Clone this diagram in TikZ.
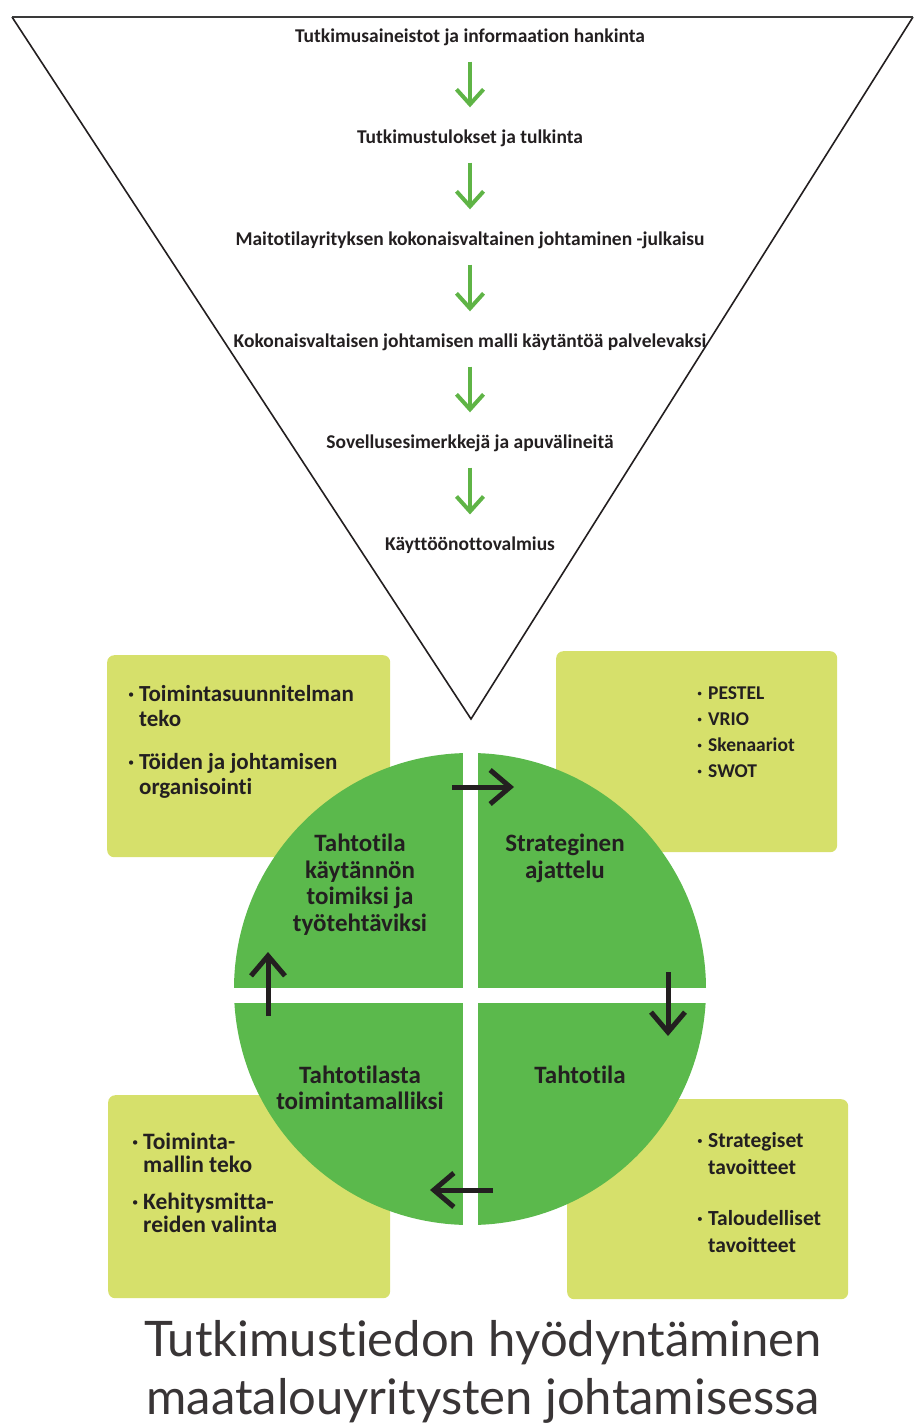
\documentclass[tikz,border=0pt]{standalone}
\usepackage{fontspec}
\usepackage{tikz}
\usetikzlibrary{arrows.meta, positioning, calc}
\setmainfont[Ligatures=NoCommon]{Carlito}
\newfontfamily\titlefont[Ligatures=NoCommon]{Lato}
\definecolor{ink-dark}{HTML}{231F20}
\definecolor{rim-grey}{HTML}{3A3A3A}
\definecolor{flow-green}{HTML}{5FB446}
\definecolor{wheel-green}{HTML}{5BB94C}
\definecolor{box-lime}{HTML}{D6E06B}
\tikzset{
  stage-text/.style={
    text=ink-dark, inner sep=0pt, font=\bfseries\fontsize{19.5}{22}\selectfont
  },
  flow-edge/.style={-{Straight Barb[length=15pt, width=27pt]}, line width=4pt, draw=flow-green,
    shorten <=16pt, shorten >=22pt},
  tool-box/.style={fill=box-lime, rounded corners=7pt, inner sep=0pt, anchor=north west},
  list-text/.style={
    text=ink-dark, inner sep=0pt, anchor=north west, align=left,
    font=\bfseries\fontsize{19}{25}\selectfont
  },
  quad-text/.style={
    text=ink-dark, inner sep=0pt, align=center,
    font=\bfseries\fontsize{25}{26.5}\selectfont
  },
  cycle-edge/.style={-{Straight Barb[length=20pt, width=34pt]}, line width=5pt, draw=ink-dark},
  title-text/.style={
    text=ink-dark!90, inner sep=0pt, align=center,
    font=\titlefont\fontsize{49}{58}\selectfont
  }
}
\newcommand{\dotmark}{\makebox[11pt][l]{·}}
\newcommand{\hang}{\hspace*{11pt}}

\begin{document}
\begin{tikzpicture}[x=1pt, y=-1pt]
  \useasboundingbox (0,0) rectangle (915,1425);

  % Suppilo
  \coordinate (rim-left) at (12,17);
  \coordinate (rim-right) at (913,17);
  \coordinate (apex) at (471,719);
  \draw[line width=1.6pt, draw=ink-dark] (rim-left) -- (apex) -- (rim-right);
  \draw[line width=2.6pt, draw=rim-grey] (rim-left) -- (rim-right);

  \node[stage-text] (stage1) at (470,37) {Tutkimusaineistot ja informaation hankinta};
  \node[stage-text] (stage2) at (470,138) {Tutkimustulokset ja tulkinta};
  \node[stage-text] (stage3) at (470,240) {Maitotilayrityksen kokonaisvaltainen johtaminen -julkaisu};
  \node[stage-text] (stage4) at (470,342) {Kokonaisvaltaisen johtamisen malli käytäntöä palvelevaksi};
  \node[stage-text] (stage5) at (470,443) {Sovellusesimerkkejä ja apuvälineitä};
  \node[stage-text] (stage6) at (470,545) {Käyttöönottovalmius};

  \draw[flow-edge] (stage1) -- (stage2);
  \draw[flow-edge] (stage2) -- (stage3);
  \draw[flow-edge] (stage3) -- (stage4);
  \draw[flow-edge] (stage4) -- (stage5);
  \draw[flow-edge] (stage5) -- (stage6);

  % Laatikot ympyrän takana
  \node[tool-box, minimum width=283pt, minimum height=202pt] (plan-box) at (107,655) {};
  \node[tool-box, minimum width=281pt, minimum height=201pt] (tools-box) at (556,651) {};
  \node[tool-box, minimum width=282pt, minimum height=203pt] (model-box) at (108,1095) {};
  \node[tool-box, minimum width=281pt, minimum height=200pt] (goal-box) at (567,1099) {};

  \node[list-text, font=\bfseries\fontsize{23}{25}\selectfont] (plan-list) at (128,685) {
    \dotmark Toimintasuunnitelman\\
    \hang teko\\[18pt]
    \dotmark Töiden ja johtamisen\\
    \hang organisointi
  };
  \node[list-text, font=\bfseries\fontsize{19.5}{26}\selectfont] (tools-list) at (697,687) {
    \dotmark PESTEL\\
    \dotmark VRIO\\
    \dotmark Skenaariot\\
    \dotmark SWOT
  };
  \node[list-text, font=\bfseries\fontsize{23.5}{23}\selectfont] (model-list) at (132,1133) {
    \dotmark Toiminta-\\
    \hang mallin teko\\[14pt]
    \dotmark Kehitysmitta-\\
    \hang reiden valinta
  };
  \node[list-text, font=\bfseries\fontsize{21.5}{27}\selectfont] (goal-list) at (697,1132) {
    \dotmark Strategiset\\
    \hang tavoitteet\\[24pt]
    \dotmark Taloudelliset\\
    \hang tavoitteet
  };

  % Ympyrä ja sen neljännekset
  \node[circle, fill=wheel-green, minimum size=472pt, inner sep=0pt] (wheel) at (470,989) {};
  \begin{scope}
    \clip (wheel.center) circle[radius=238pt];
    \fill[white] (462.5,740) rectangle (478,1240);
    \fill[white] (220,988) rectangle (720,1003);
  \end{scope}

  \node[quad-text] (q-practice) at (360,884.5) {Tahtotila\\käytännön\\toimiksi ja\\työtehtäviksi};
  \node[quad-text] (q-strategy) at (565,858.5) {Strateginen\\ajattelu};
  \node[quad-text] (q-vision) at (580,1075) {Tahtotila};
  \node[quad-text] (q-model) at (360,1088) {Tahtotilasta\\toimintamalliksi};

  % Kierron nuolet
  \coordinate (turn1-from) at (452,787);
  \coordinate (turn1-to) at (514,787);
  \coordinate (turn2-from) at (668,972);
  \coordinate (turn2-to) at (668,1036);
  \coordinate (turn3-from) at (493,1190);
  \coordinate (turn3-to) at (430,1190);
  \coordinate (turn4-from) at (268,1016);
  \coordinate (turn4-to) at (268,952);
  \draw[cycle-edge] (turn1-from) -- (turn1-to);
  \draw[cycle-edge] (turn2-from) -- (turn2-to);
  \draw[cycle-edge] (turn3-from) -- (turn3-to);
  \draw[cycle-edge] (turn4-from) -- (turn4-to);

  % Otsikko
  \node[title-text, anchor=north] (headline) at (483,1320)
    {Tutkimustiedon hyödyntäminen\\maatalouyritysten johtamisessa};
\end{tikzpicture}
\end{document}
